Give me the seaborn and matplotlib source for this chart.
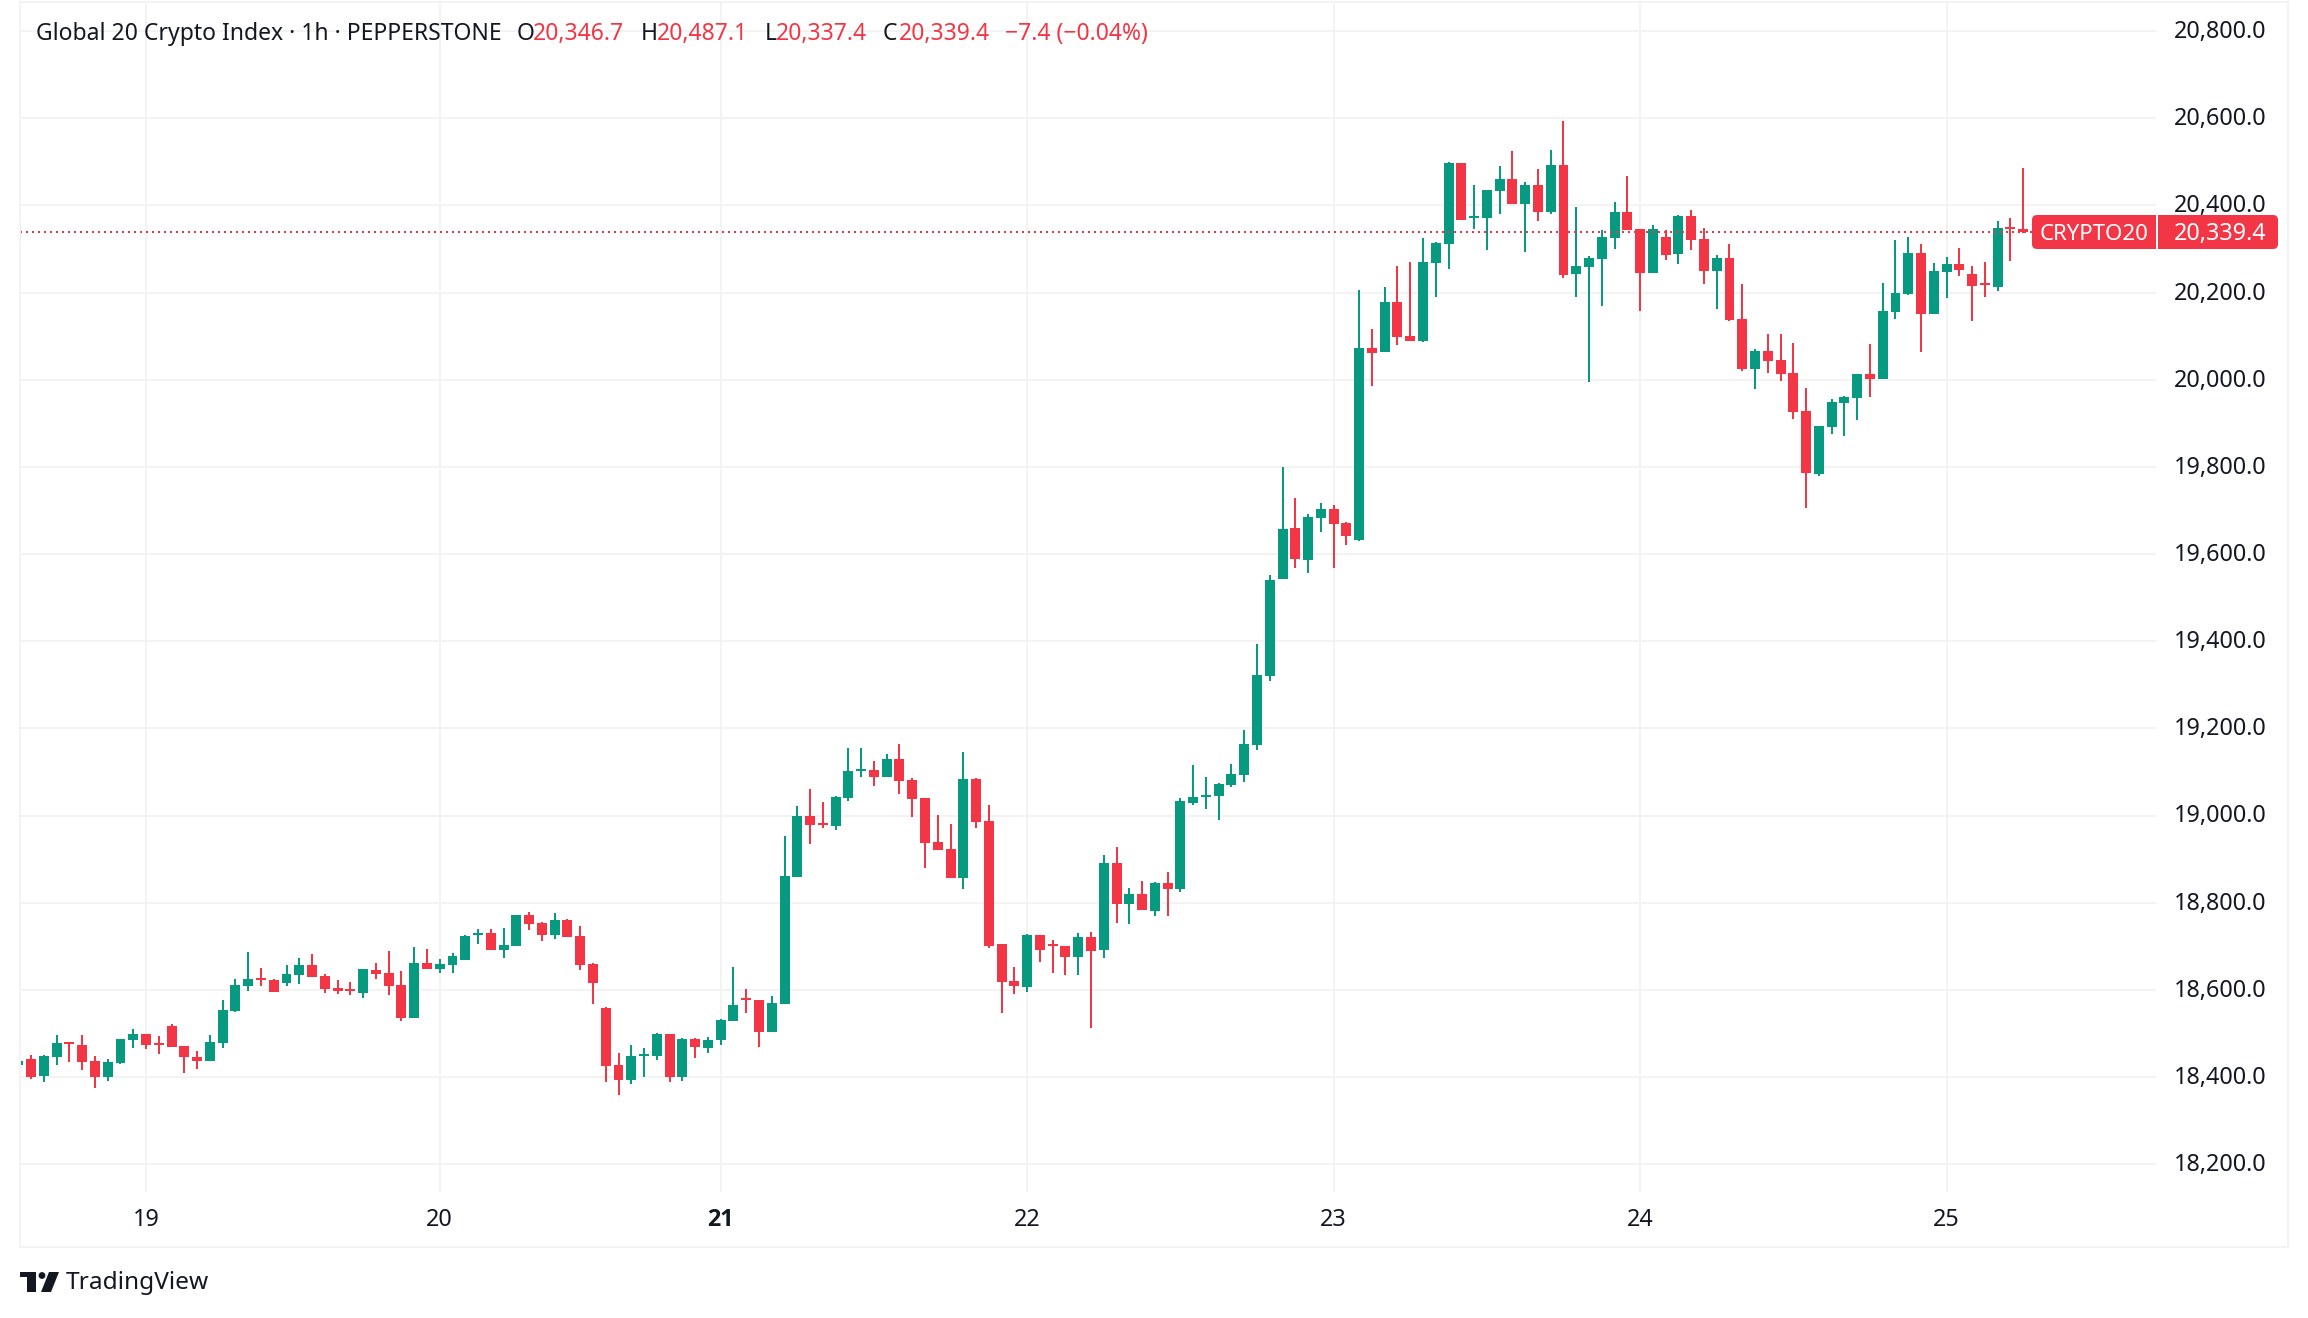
import numpy as np
import pandas as pd
import matplotlib
matplotlib.use("Agg")
import matplotlib.pyplot as plt
from matplotlib.patches import Circle, FancyBboxPatch, Polygon, Rectangle
from matplotlib.transforms import IdentityTransform, ScaledTranslation
import seaborn as sns

# hourly candles
open_prices = [
    18428,18441,18402,18446,18480,18473,18437,18400,18432,18485,
    18499,18478,18517,18471,18446,18437,18478,18551,18609,18627,
    18623,18616,18634,18657,18632,18604,18602,18593,18646,18639,
    18611,18535,18662,18648,18657,18669,18726,18730,18691,18701,
    18772,18753,18726,18760,18724,18659,18558,18428,18393,18448,
    18448,18499,18400,18487,18467,18485,18529,18581,18577,18503,
    18568,18859,18999,18983,18976,19040,19102,19105,19089,19130,
    19082,19040,18939,18923,18857,19084,18988,18705,18620,18607,
    18726,18705,18701,18675,18721,18691,18891,18797,18820,18781,
    18845,18831,19029,19043,19045,19070,19093,19162,19320,19543,
    19660,19587,19683,19704,19671,19632,20073,20064,20179,20101,
    20089,20268,20312,20498,20371,20371,20433,20461,20404,20447,
    20385,20493,20243,20259,20277,20326,20385,20346,20245,20328,
    20289,20376,20323,20250,20280,20140,20025,20066,20046,20016,
    19928,19784,19892,19947,19958,20013,20002,20156,20197,20291,
    20151,20247,20266,20243,20222,20213,20351,20346.7,
]
high_prices = [
    18437,18450,18450,18496,18480,18496,18448,18441,18487,18510,
    18499,18494,18522,18471,18460,18496,18577,18625,18687,18650,
    18625,18657,18673,18682,18636,18623,18618,18648,18662,18689,
    18643,18698,18694,18671,18685,18726,18740,18740,18742,18772,
    18779,18756,18776,18763,18747,18662,18561,18455,18473,18467,
    18501,18499,18490,18490,18492,18533,18652,18602,18577,18586,
    18953,19022,19061,19031,19045,19155,19155,19125,19141,19164,
    19086,19040,19001,18981,19146,19086,19024,18705,18652,18728,
    18726,18714,18701,18730,18733,18909,18928,18834,18850,18848,
    18870,19040,19116,19089,19075,19118,19196,19394,19552,19800,
    19729,19692,19717,19713,19674,20206,20117,20213,20261,20270,
    20326,20316,20500,20498,20447,20436,20491,20525,20454,20484,
    20527,20594,20397,20284,20344,20408,20468,20346,20355,20344,
    20378,20390,20348,20286,20312,20220,20071,20105,20105,20085,
    19981,19894,19956,19963,20013,20082,20222,20321,20328,20312,
    20268,20282,20303,20261,20270,20365,20371,20487.1,
]
low_prices = [
    18428,18395,18389,18428,18434,18416,18375,18391,18430,18467,
    18464,18453,18469,18409,18418,18437,18467,18549,18597,18609,
    18595,18609,18613,18630,18593,18590,18588,18581,18625,18588,
    18529,18535,18648,18639,18639,18669,18705,18691,18673,18701,
    18737,18712,18717,18721,18646,18568,18389,18359,18384,18400,
    18439,18389,18391,18444,18455,18473,18529,18547,18469,18503,
    18568,18859,18935,18971,18967,19033,19089,19068,19089,19049,
    18997,18880,18921,18857,18831,18971,18696,18547,18590,18595,
    18664,18639,18634,18634,18512,18673,18753,18751,18783,18769,
    18769,18825,19024,19015,18990,19066,19077,19150,19309,19543,
    19568,19557,19651,19568,19621,19630,19986,20064,20080,20089,
    20087,20190,20254,20367,20346,20298,20381,20404,20293,20365,
    20381,20234,20190,19995,20169,20300,20344,20158,20245,20275,
    20266,20298,20220,20163,20135,20020,19979,20016,19997,19910,
    19706,19779,19876,19871,19908,19961,20002,20140,20195,20064,
    20151,20188,20238,20135,20190,20204,20273,20337.4,
]
close_prices = [
    18437,18400,18448,18478,18476,18434,18400,18434,18487,18499,
    18473,18473,18469,18446,18437,18480,18554,18611,18625,18623,
    18595,18636,18657,18630,18602,18597,18597,18648,18636,18609,
    18535,18662,18648,18659,18678,18724,18730,18691,18703,18772,
    18751,18726,18760,18721,18657,18616,18425,18393,18448,18453,
    18499,18400,18487,18469,18485,18531,18565,18577,18503,18570,
    18861,18999,18978,18978,19043,19102,19107,19089,19130,19079,
    19038,18937,18921,18857,19084,18985,18701,18618,18609,18726,
    18691,18701,18675,18721,18689,18891,18797,18820,18783,18845,
    18831,19033,19043,19047,19072,19095,19164,19323,19541,19658,
    19589,19685,19704,19669,19642,20073,20062,20179,20098,20089,
    20270,20314,20498,20367,20376,20436,20461,20404,20447,20385,
    20493,20241,20261,20280,20328,20385,20344,20245,20346,20286,
    20376,20321,20250,20280,20137,20025,20066,20043,20013,19926,
    19786,19894,19949,19961,20013,20002,20158,20199,20291,20151,
    20250,20266,20252,20215,20218,20348,20346,20339.4,
]

day_bars = [10, 33, 55, 79, 103, 127, 151]
day_labels = ["19", "20", "21", "22", "23", "24", "25"]
price_ticks = list(range(18200, 21000, 200))
last_price = 20339.4

UP = "#089981"
DOWN = "#F23645"
INK = "#131722"
GRID = "#F3F3F3"
W, H = 2308, 1318

sns.set_theme(style="white")
plt.rcParams["font.family"] = ["Noto Sans", "DejaVu Sans"]

df = pd.DataFrame({"open": open_prices, "high": high_prices, "low": low_prices, "close": close_prices})
df["bar"] = np.arange(len(df))
df["top"] = df[["open", "close"]].max(axis=1)
df["bottom"] = df[["open", "close"]].min(axis=1)
df["body"] = df["top"] - df["bottom"]
df["rising"] = df["close"] >= df["open"]

fig = plt.figure(figsize=(W / 100, H / 100), dpi=100, facecolor="white")
# pane: x 20..2156, y 2..1192 in picture pixels
ax = fig.add_axes([20 / W, 1 - 1192 / H, (2156 - 20) / W, (1192 - 2) / H])

for rising, color in [(True, UP), (False, DOWN)]:
    part = df[df["rising"] == rising]
    ax.vlines(part["bar"], part["low"], part["high"], color=color, linewidth=1.44, zorder=3, antialiased=False)
    sns.barplot(x=part["bar"].values, y=part["body"].values, bottom=part["bottom"].values, native_scale=True,
                color=color, saturation=1, width=0.78, errorbar=None, linewidth=0, ax=ax, zorder=4)

ax.axhline(last_price, color=DOWN, linewidth=1.44, linestyle=(0, (1, 2)), zorder=5)

ax.set_xlim(0.13, 167.4)
ax.set_ylim(18136, 20867)
ax.set_xlabel("")
ax.set_ylabel("")
ax.set_xticks(day_bars, day_labels)
ax.set_yticks(price_ticks, [f"{p:,.1f}" for p in price_ticks])
ax.yaxis.tick_right()
ax.tick_params(axis="both", length=0, labelsize=16.8, labelcolor=INK)
ax.tick_params(axis="x", pad=11.5)
ax.tick_params(axis="y", pad=13)
ax.grid(True, color=GRID, linewidth=1.44, zorder=0)
ax.set_axisbelow(True)
for spine in ax.spines.values():
    spine.set_visible(False)

# "21" is bold in the reference, Noto Sans gives no bold here
bold_day = ax.get_xticklabels()[2]
bold_day.set_fontfamily("Open Sans")
bold_day.set_fontweight("bold")

# price labels sit a little above their grid lines
up_shift = ScaledTranslation(0, 1.5 / 72, fig.dpi_scale_trans)
for tick_label in ax.get_yticklabels():
    tick_label.set_transform(tick_label.get_transform() + up_shift)


def px(x, y):
    return x, H - y


def add_patch(patch):
    patch.set_transform(IdentityTransform())
    fig.add_artist(patch)


def label(x, y, text, color=INK, size=16.5, **kw):
    fig.text(x / W, 1 - y / H, text, color=color, fontsize=size, va="center", **kw)


# outer frame
add_patch(Rectangle(px(20, 1247), 2288 - 20, 1247 - 2, fill=False, edgecolor=GRID, linewidth=1.44))

# header line
label(36, 34, "Global 20 Crypto Index · 1h · PEPPERSTONE")
for x, vx, head, value in [(517, 533, "O", "20,346.7"), (641, 657, "H", "20,487.1"),
                           (765, 776, "L", "20,337.4"), (883, 899, "C", "20,339.4")]:
    label(x, 34, head)
    label(vx, 34, value, color=DOWN)
label(1005, 34, "−7.4 (−0.04%)", color=DOWN)

# last price tag
add_patch(FancyBboxPatch(px(2035, 246), 2275 - 2035, 28, boxstyle="round,pad=3,rounding_size=5",
                         facecolor=DOWN, edgecolor="none", zorder=6))
add_patch(Rectangle(px(2156, 249), 2, 34, facecolor="white", edgecolor="none", zorder=7))
label(2040, 234, "CRYPTO20", color="white", size=16, zorder=8)
label(2174, 234, "20,339.4", color="white", size=16.8, zorder=8)

# TradingView logo
add_patch(Polygon([px(20, 1272), px(36, 1272), px(36, 1292), px(27, 1292), px(27, 1277), px(20, 1277)],
                  facecolor=INK, edgecolor="none"))
add_patch(Circle(px(42, 1275.5), 3.4, facecolor=INK, edgecolor="none"))
add_patch(Polygon([px(49, 1272), px(59, 1272), px(51, 1292), px(41, 1292)], facecolor=INK, edgecolor="none"))
label(66, 1283, "TradingView", size=17.6)

fig.savefig("out.png", dpi=100)
